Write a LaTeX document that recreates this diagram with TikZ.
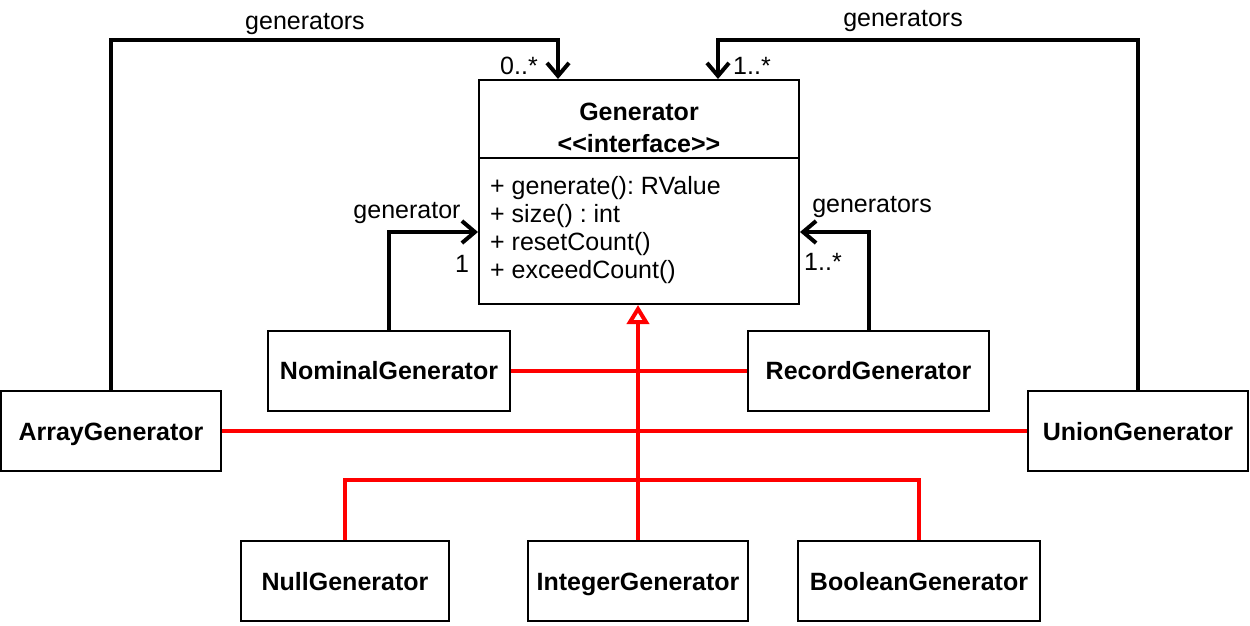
\documentclass[tikz,border=0pt]{standalone}
\usepackage{fontspec}
\setmainfont{Liberation Sans}
\usetikzlibrary{arrows.meta}
\frenchspacing

\begin{document}
\begin{tikzpicture}[x=1pt,y=-1pt,
    cls/.style={draw,line width=2pt,inner sep=0pt,minimum height=80pt,text height=18pt,text depth=0pt,font=\fontsize{25}{30}\selectfont\bfseries},
    lbl/.style={inner sep=0pt,font=\fontsize{25}{30}\selectfont},
    assoc/.style={line width=4pt,-{Straight Barb[length=13pt,width=22pt]}},
    impl/.style={red,line width=4pt}]
  \useasboundingbox (0,0) rectangle (1250,625);
  % interface box
  \node[draw,line width=2pt,minimum width=320pt,minimum height=224pt] (gen) at (639,192) {};
  \coordinate (split) at (0,158);
  \draw[line width=2pt] (gen.west |- split) -- (gen.east |- split);
  \node[lbl,align=center,font=\fontsize{25}{32}\selectfont\bfseries] (gentitle) at (639,128) {Generator\\<\kern0pt<interface>\kern0pt>};
  \node[lbl,align=left,anchor=west,font=\fontsize{25}{28}\selectfont] (genops) at (490,230)
    {+ generate(): RValue\\+ size() : int\\+ resetCount()\\+ exceedCount()};
  % classes
  \node[cls,minimum width=220pt] (arr) at (111,431) {ArrayGenerator};
  \node[cls,minimum width=242pt] (nom) at (389,370.5) {NominalGenerator};
  \node[cls,minimum width=241pt] (rec) at (868.5,370.5) {RecordGenerator};
  \node[cls,minimum width=220pt] (uni) at (1138,431) {UnionGenerator};
  \node[cls,minimum width=208pt] (null) at (345,581) {NullGenerator};
  \node[cls,minimum width=220pt] (intg) at (638,581) {IntegerGenerator};
  \node[cls,minimum width=242pt] (bool) at (919,581) {BooleanGenerator};
  % realisation
  \draw[impl] (nom) -- (rec);
  \draw[impl] (arr) -- (uni);
  \draw[impl] (null.north) -- ++(0,-60) -| (bool.north);
  \draw[impl,-{Triangle[open,fill=white,length=19pt,width=22pt]}] (intg.north) -- (intg.north |- gen.south);
  % associations
  \coordinate (topL) at (558,40);
  \coordinate (topR) at (718,40);
  \draw[assoc] (arr.north) |- (topL) -- (topL |- gen.north);
  \draw[assoc] (uni.north) |- (topR) -- (topR |- gen.north);
  \draw[assoc] (nom.north) |- ([yshift=-40pt]gen.west);
  \draw[assoc] (rec.north) |- ([yshift=-40pt]gen.east);
  \node[lbl] (arrname) at (305,24) {generators};
  \node[lbl] (arrmult) at (519,66) {0..*};
  \node[lbl] (uniname) at (903,21) {generators};
  \node[lbl] (unimult) at (752,66) {1..*};
  \node[lbl] (nomname) at (407,213) {generator};
  \node[lbl] (nommult) at (462,264) {1};
  \node[lbl] (recname) at (872,207) {generators};
  \node[lbl] (recmult) at (823,262) {1..*};
\end{tikzpicture}
\end{document}
